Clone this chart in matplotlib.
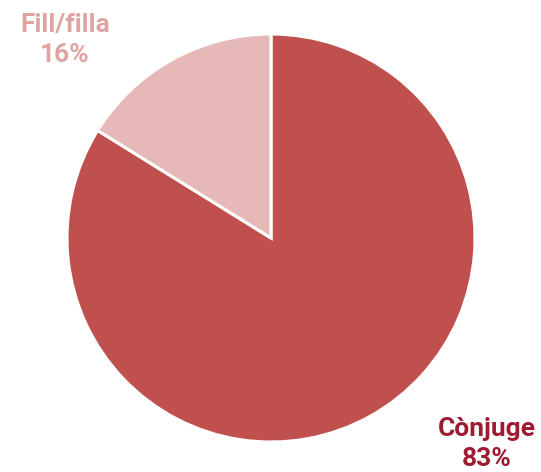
import matplotlib.pyplot as plt

labels = ["Cònjuge", "Fill/filla"]
values = [83, 16]
colors = ["#C0504D", "#E6B9B8"]
text_colors = ["#9E1B32", "#E0A3A3"]

W, H = 541, 472
cx, cy, r = 271, 238, 204

fig = plt.figure(figsize=(W / 100, H / 100), dpi=100)
ax = fig.add_axes([0, 0, 1, 1])
ax.pie(values, colors=colors, startangle=90, counterclock=False,
       wedgeprops=dict(edgecolor="white", linewidth=2.2))
ax.set_xlim(-cx / r, (W - cx) / r)
ax.set_ylim(-(H - cy) / r, cy / r)
ax.set_aspect("auto")
ax.axis("off")

def px(x, y):
    return (x - cx) / r, (cy - y) / r

pos = [(487, 444), (65, 40)]
for lab, v, c, (x, y) in zip(labels, values, text_colors, pos):
    ax.text(*px(x, y), f"{lab}\n{v}%", ha="center", va="center",
            fontsize=19, fontweight="bold", family="Roboto", color=c,
            linespacing=1.3)

fig.savefig("out.png", dpi=100)
